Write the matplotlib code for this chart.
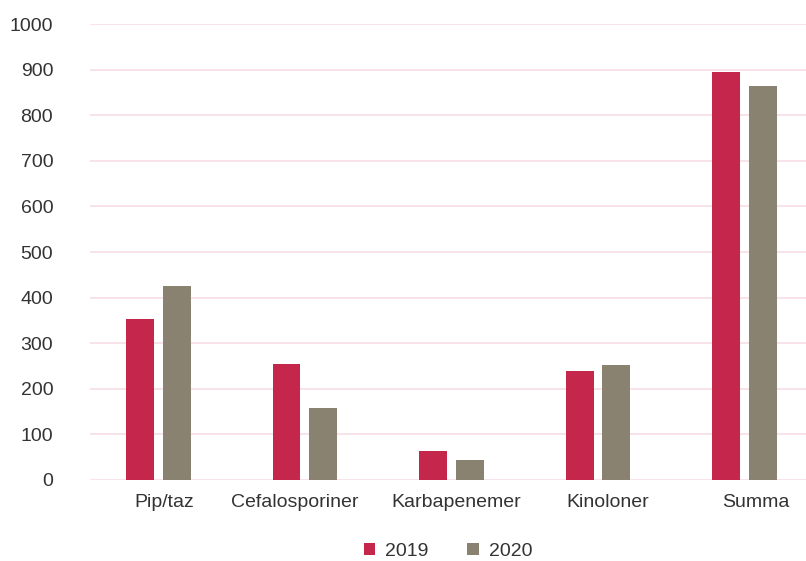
import numpy as np
import matplotlib
matplotlib.use("Agg")
import matplotlib.pyplot as plt
from matplotlib.transforms import ScaledTranslation

categories = ["Pip/taz", "Cefalosporiner", "Karbapenemer", "Kinoloner", "Summa"]
years = ["2019", "2020"]
vals_2019 = [354, 254, 64, 239, 895]
vals_2020 = [425, 158, 44, 252, 864]
yticks = [0, 100, 200, 300, 400, 500, 600, 700, 800, 900, 1000]

RED = "#C4274B"
GREY = "#8A8270"
GRID = "#F6DEE4"
TXT = "#333333"

plt.rcParams["font.family"] = ["Liberation Sans", "DejaVu Sans"]

fig = plt.figure(figsize=(8.06, 5.61), dpi=100)
ax = fig.add_axes([0.1117, 0.1444, 0.8883, 0.8128])

x = np.arange(len(categories))
w = 0.19
ax.bar(x - 0.125, vals_2019, width=w, color=RED, zorder=3, label=years[0])
ax.bar(x + 0.125, vals_2020, width=w, color=GREY, zorder=3, label=years[1])

ax.set_ylim(0, 1000)
ax.set_xlim(-0.466, 4.42)
ax.set_yticks(yticks)
ax.set_yticklabels([str(t) for t in yticks])
ax.set_xticks(x)
ax.set_xticklabels(categories)
for t in yticks:
    ax.axhline(t, color=GRID, lw=1.2, zorder=1)
for s in ax.spines.values():
    s.set_visible(False)
ax.tick_params(axis="y", length=0, pad=26.5, labelsize=14, labelcolor=TXT)
ax.tick_params(axis="x", length=0, pad=10, labelsize=14, labelcolor=TXT)

# category labels in the original sit a little off the bar-group centres
label_shift_px = [6, -10, 5, 10, 11]
for lab, dx in zip(ax.get_xticklabels(), label_shift_px):
    lab.set_transform(lab.get_transform() + ScaledTranslation(dx / 100, 0, fig.dpi_scale_trans))

leg = fig.legend(loc="center", bbox_to_anchor=(0.5558, 0.0178), ncol=2, frameon=False,
                 fontsize=14, handlelength=0.6, handleheight=0.6, handletextpad=0.5,
                 columnspacing=2.0)
for t in leg.get_texts():
    t.set_color(TXT)

fig.savefig("out.png", dpi=100)
